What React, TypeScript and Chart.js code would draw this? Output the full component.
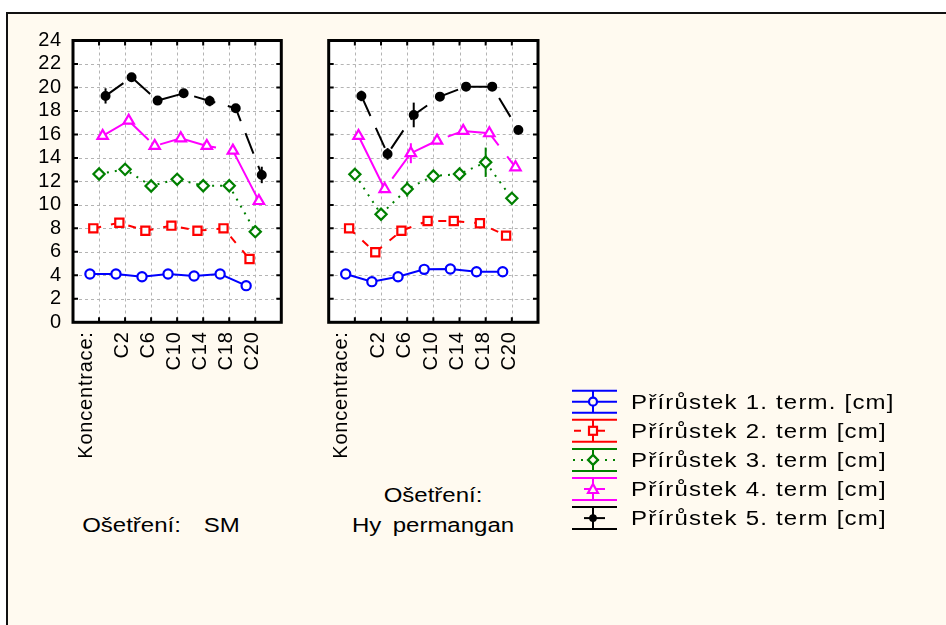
import React, { useEffect, useRef } from "react";
import { Chart, registerables } from "chart.js";

Chart.register(...registerables);

// ---------- data ----------
const CATEGORIES = ["Koncentrace:", "C2", "C6", "C10", "C14", "C18", "C20"];
const SERIES_NAMES = [
  "Přírůstek 1. term. [cm]",
  "Přírůstek 2. term [cm]",
  "Přírůstek 3. term [cm]",
  "Přírůstek 4. term [cm]",
  "Přírůstek 5. term [cm]",
];
const PANEL_SM_TITLE = ["Ošetření:  SM"];
const PANEL_HP_TITLE = ["Ošetření:", "Hy permangan"];
const Y_MIN = 0;
const Y_MAX = 24;
const Y_STEP = 2;

// Ošetření: SM
const SM_T1 = [4.11, 4.11, 3.88, 4.11, 3.94, 4.11, 3.12];
const SM_T2 = [8.0, 8.48, 7.8, 8.23, 7.8, 8.0, 5.39];
const SM_T3 = [12.63, 13.03, 11.61, 12.18, 11.63, 11.63, 7.72];
const SM_T4 = [15.87, 17.17, 15.02, 15.67, 15.02, 14.62, 10.33];
const SM_T5 = [19.28, 20.87, 18.88, 19.5, 18.85, 18.23, 12.55];
const SM_E1 = [0.15, 0.15, 0.15, 0.15, 0.15, 0.15, 0.2];
const SM_E2 = [0.2, 0.25, 0.2, 0.2, 0.2, 0.2, 0.3];
const SM_E3 = [0.2, 0.2, 0.25, 0.2, 0.2, 0.2, 0.3];
const SM_E4 = [0.25, 0.3, 0.25, 0.25, 0.2, 0.25, 0.35];
const SM_E5 = [0.65, 0.3, 0.25, 0.2, 0.45, 0.3, 0.7];

// Ošetření: Hypermangan
const HP_T1 = [4.11, 3.46, 3.88, 4.51, 4.54, 4.31, 4.31];
const HP_T2 = [8.0, 5.96, 7.8, 8.63, 8.63, 8.43, 7.38];
const HP_T3 = [12.6, 9.2, 11.35, 12.46, 12.63, 13.63, 10.56];
const HP_T4 = [15.87, 11.35, 14.4, 15.47, 16.3, 16.1, 13.2];
const HP_T5 = [19.28, 14.34, 17.66, 19.22, 20.07, 20.07, 16.38];
const HP_E1 = [0.15, 0.2, 0.15, 0.2, 0.15, 0.15, 0.15];
const HP_E2 = [0.2, 0.25, 0.3, 0.2, 0.2, 0.2, 0.2];
const HP_E3 = [0.2, 0.3, 0.65, 0.25, 0.2, 1.25, 0.25];
const HP_E4 = [0.3, 0.3, 0.85, 0.3, 0.25, 0.3, 0.3];
const HP_E5 = [0.45, 0.5, 1.05, 0.25, 0.25, 0.3, 0.3];

// ---------- styles ----------
const COLORS = ["#0000FF", "#FF0000", "#008000", "#FF00FF", "#000000"];
const DASHES: number[][] = [[], [8, 10], [2, 6], [58, 14], [22, 13]];
const MARKERS = ["circle", "rect", "rectRot", "triangle", "circle"];
const MARKER_R = [4.6, 5.8, 5.6, 6, 3.9];
const MARKER_FILL = ["#FFFFFF", "#FFFFFF", "#FFFFFF", "#FFFFFF", "#000000"];
const DODGE = [-0.35, -0.22, 0, 0.14, 0.25];
const FONT = "'Liberation Sans', Arial, sans-serif";
const CANVAS_H = 470;
const CANVAS_LS = "0.8px";

const decorPlugin = {
  id: "decor",
  beforeLayout(chart: any) {
    chart.ctx.letterSpacing = CANVAS_LS;
  },
  beforeDraw(chart: any) {
    const { ctx, chartArea: a, scales } = chart;
    ctx.letterSpacing = CANVAS_LS;
    ctx.save();
    ctx.fillStyle = "#FFFFFF";
    ctx.fillRect(a.left, a.top, a.right - a.left, a.bottom - a.top);
    ctx.strokeStyle = "#B4B4B4";
    ctx.lineWidth = 1;
    ctx.setLineDash([3, 3]);
    ctx.beginPath();
    for (let v = Y_MIN + Y_STEP; v < Y_MAX; v += Y_STEP) {
      const y = Math.round(scales.y.getPixelForValue(v)) + 0.5;
      ctx.moveTo(a.left, y);
      ctx.lineTo(a.right, y);
    }
    for (let i = 0; i < CATEGORIES.length; i++) {
      const x = Math.round(scales.x.getPixelForValue(i)) + 0.5;
      ctx.moveTo(x, a.top);
      ctx.lineTo(x, a.bottom);
    }
    ctx.stroke();
    ctx.restore();
  },
  beforeDatasetsDraw(chart: any) {
    const { ctx, scales } = chart;
    ctx.save();
    ctx.lineWidth = 2;
    ctx.setLineDash([]);
    chart.data.datasets.forEach((ds: any, di: number) => {
      const meta = chart.getDatasetMeta(di);
      ctx.strokeStyle = ds.borderColor;
      meta.data.forEach((pt: any, i: number) => {
        const v = ds.data[i].y;
        const e = ds.errors[i];
        const y1 = scales.y.getPixelForValue(v + e);
        const y2 = scales.y.getPixelForValue(v - e);
        ctx.beginPath();
        ctx.moveTo(pt.x, y1);
        ctx.lineTo(pt.x, y2);
        ctx.stroke();
      });
    });
    ctx.restore();
  },
  afterDraw(chart: any) {
    const { ctx, chartArea: a, scales } = chart;
    ctx.save();
    ctx.strokeStyle = "#000000";
    ctx.setLineDash([]);
    ctx.lineWidth = 2;
    const tl = 5;
    ctx.beginPath();
    for (let v = Y_MIN + Y_STEP; v < Y_MAX; v += Y_STEP) {
      const y = scales.y.getPixelForValue(v);
      ctx.moveTo(a.left, y);
      ctx.lineTo(a.left + tl, y);
      ctx.moveTo(a.right, y);
      ctx.lineTo(a.right - tl, y);
    }
    for (let i = 0; i < CATEGORIES.length; i++) {
      const x = scales.x.getPixelForValue(i);
      ctx.moveTo(x, a.top);
      ctx.lineTo(x, a.top + tl);
      ctx.moveTo(x, a.bottom);
      ctx.lineTo(x, a.bottom - tl);
    }
    ctx.stroke();
    ctx.lineWidth = 3;
    ctx.strokeRect(a.left, a.top, a.right - a.left, a.bottom - a.top);
    ctx.restore();
  },
};

type PanelProps = {
  series: number[][];
  errors: number[][];
  showY: boolean;
  left: number;
  width: number;
  axisW: number;
  rightPad: number;
};

function Panel({ series, errors, showY, left, width, axisW, rightPad }: PanelProps) {
  const ref = useRef<HTMLCanvasElement | null>(null);
  useEffect(() => {
    const datasets = series.map((vals, s) => ({
      label: SERIES_NAMES[s],
      data: vals.map((v, i) => ({ x: i + DODGE[s], y: v })),
      errors: errors[s],
      borderColor: COLORS[s],
      borderWidth: 2,
      borderDash: DASHES[s],
      borderCapStyle: "butt",
      pointStyle: MARKERS[s],
      pointRadius: MARKER_R[s],
      pointBorderWidth: 2.2,
      pointBorderColor: COLORS[s],
      pointBackgroundColor: MARKER_FILL[s],
      tension: 0,
      fill: false,
    }));
    const chart = new Chart(ref.current as HTMLCanvasElement, {
      type: "line",
      data: { datasets } as any,
      options: {
        responsive: false,
        animation: false,
        events: [],
        clip: false as any,
        layout: { padding: { top: 40.5, right: rightPad, left: 0, bottom: 0 } },
        plugins: { legend: { display: false }, tooltip: { enabled: false } },
        scales: {
          x: {
            type: "linear",
            min: -1,
            max: CATEGORIES.length,
            afterBuildTicks: (s: any) => {
              s.ticks = CATEGORIES.map((_, i) => ({ value: i === 0 ? -0.5 : i - 0.09 }));
            },
            afterFit: (s: any) => {
              s.height = CANVAS_H - 322.3;
            },
            ticks: {
              autoSkip: false,
              minRotation: 90,
              maxRotation: 90,
              padding: 9,
              color: "#000000",
              font: { family: FONT, size: 20 },
              callback: (_v: any, i: number) => CATEGORIES[i],
            },
            grid: { display: false, drawTicks: false },
            border: { display: false },
          },
          y: {
            min: Y_MIN,
            max: Y_MAX,
            afterFit: (s: any) => {
              s.width = axisW;
            },
            ticks: {
              display: showY,
              autoSkip: false,
              stepSize: Y_STEP,
              padding: 11,
              color: "#000000",
              font: { family: FONT, size: 20 },
            },
            grid: { display: false, drawTicks: false },
            border: { display: false },
          },
        },
      } as any,
      plugins: [decorPlugin],
    });
    return () => chart.destroy();
  }, []);
  return (
    <canvas
      ref={ref}
      width={width}
      height={CANVAS_H}
      style={{ position: "absolute", left, top: 0, width, height: CANVAS_H }}
    />
  );
}

const textStyle: React.CSSProperties = {
  position: "absolute",
  fontFamily: FONT,
  fontSize: 20,
  color: "#000",
  whiteSpace: "pre",
  lineHeight: "30px",
};

function Legend() {
  const x0 = 572;
  const x1 = 617;
  const xm = 593;
  const top = 401.7;
  const step = 29.1;
  return (
    <>
      <svg width={946} height={625} style={{ position: "absolute", left: 0, top: 0 }}>
        {SERIES_NAMES.map((_, s) => {
          const cy = top + step * s;
          const c = COLORS[s];
          let marker: any;
          if (MARKERS[s] === "circle" && s === 0)
            marker = <circle cx={xm} cy={cy} r={4} fill="#FFFAF0" stroke={c} strokeWidth={2.2} />;
          else if (MARKERS[s] === "circle") marker = <circle cx={xm} cy={cy} r={3.9} fill={c} />;
          else if (MARKERS[s] === "rect")
            marker = (
              <rect x={xm - 4} y={cy - 4} width={8} height={8} fill="#FFFAF0" stroke={c} strokeWidth={2.2} />
            );
          else if (MARKERS[s] === "rectRot")
            marker = (
              <polygon
                points={`${xm},${cy - 5} ${xm + 5},${cy} ${xm},${cy + 5} ${xm - 5},${cy}`}
                fill="#FFFAF0"
                stroke={c}
                strokeWidth={2.2}
              />
            );
          else
            marker = (
              <polygon
                points={`${xm},${cy - 5} ${xm + 5},${cy + 4} ${xm - 5},${cy + 4}`}
                fill="#FFFAF0"
                stroke={c}
                strokeWidth={2.2}
              />
            );
          const centerLine =
            s === 0 ? (
              <line x1={x0} x2={x1} y1={cy} y2={cy} stroke={c} strokeWidth={2} />
            ) : s === 1 ? (
              <line x1={x0 + 2} x2={x1 - 4} y1={cy} y2={cy} stroke={c} strokeWidth={2} strokeDasharray="7 16 8 20" />
            ) : s === 2 ? (
              <line x1={x0 + 1} x2={x1} y1={cy} y2={cy} stroke={c} strokeWidth={2} strokeDasharray="2 6" />
            ) : (
              <line x1={x0 + 12} x2={x1 - 12} y1={cy} y2={cy} stroke={c} strokeWidth={2} />
            );
          return (
            <g key={s}>
              <line x1={x0} x2={x1} y1={cy - 11} y2={cy - 11} stroke={c} strokeWidth={2} />
              <line x1={x0} x2={x1} y1={cy + 11} y2={cy + 11} stroke={c} strokeWidth={2} />
              <line x1={xm} x2={xm} y1={cy - 11} y2={cy + 11} stroke={c} strokeWidth={2} />
              {centerLine}
              {marker}
            </g>
          );
        })}
      </svg>
      {SERIES_NAMES.map((n, s) => (
        <div
          key={n}
          style={{
            ...textStyle,
            left: 631,
            top: top + step * s - 15,
            letterSpacing: "1px",
            transform: "scaleX(1.2)",
            transformOrigin: "0 50%",
          }}
        >
          {n}
        </div>
      ))}
    </>
  );
}

export default function App() {
  return (
    <div
      style={{
        position: "fixed",
        left: 0,
        top: 0,
        width: 946,
        height: 625,
        overflow: "hidden",
        background: "#FFFFFF",
      }}
    >
      <div
        style={{
          position: "absolute",
          left: 6,
          top: 12,
          width: 980,
          height: 700,
          border: "2px solid #111",
          background: "#FFFAF0",
        }}
      />
      <Panel
        series={[SM_T1, SM_T2, SM_T3, SM_T4, SM_T5]}
        errors={[SM_E1, SM_E2, SM_E3, SM_E4, SM_E5]}
        showY={true}
        left={0}
        width={300}
        axisW={73}
        rightPad={18.7}
      />
      <Panel
        series={[HP_T1, HP_T2, HP_T3, HP_T4, HP_T5]}
        errors={[HP_E1, HP_E2, HP_E3, HP_E4, HP_E5]}
        showY={false}
        left={300}
        width={260}
        axisW={28.7}
        rightPad={22}
      />
      <div
        style={{
          ...textStyle,
          left: 11,
          width: 300,
          top: 510,
          textAlign: "center",
          wordSpacing: "4px",
          transform: "scaleX(1.2)",
          transformOrigin: "50% 50%",
        }}
      >
        {PANEL_SM_TITLE.join("\n")}
      </div>
      <div
        style={{
          ...textStyle,
          left: 283,
          width: 300,
          top: 480,
          textAlign: "center",
          wordSpacing: "4px",
          transform: "scaleX(1.2)",
          transformOrigin: "50% 50%",
        }}
      >
        {PANEL_HP_TITLE.join("\n")}
      </div>
      <Legend />
    </div>
  );
}
